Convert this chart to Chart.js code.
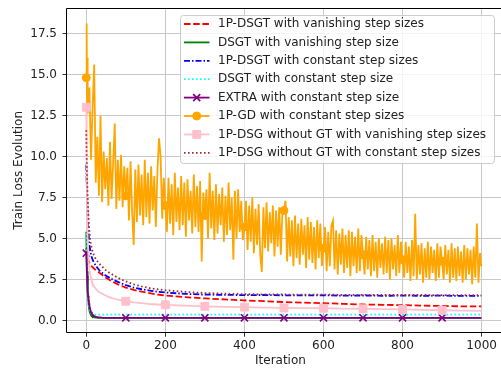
<!DOCTYPE html>
<html><head><meta charset="utf-8">
<script src="https://cdn.jsdelivr.net/npm/chart.js@4.4.0/dist/chart.umd.min.js"></script>
<style>html,body{margin:0;padding:0;background:#fff;overflow:hidden}#wrap{width:501px;height:370px;position:relative}canvas{display:block}</style>
</head><body><div id="wrap"><canvas id="c" width="501" height="370"></canvas></div>
<script>
const X_TICKS = [0, 200, 400, 600, 800, 1000];
const Y_TICKS = [0, 2.5, 5, 7.5, 10, 12.5, 15, 17.5];
const MARK_ITERS = [0, 100, 200, 300, 400, 500, 600, 700, 800, 900];

const SERIES_LABELS = [
  '1P-DSGT with vanishing step sizes',
  'DSGT with vanishing step size',
  '1P-DSGT with constant step sizes',
  'DSGT with constant step size',
  'EXTRA with constant step size',
  '1P-GD with constant step sizes',
  '1P-DSG without GT with vanishing step sizes',
  '1P-DSG without GT with constant step sizes'
];

// iteration grid for the smooth curves
const ITERS = [0,1,2,3,4,5,6,7,8,10,12,14,16,18,20,25,30,35,40,50,60,70,80,90,100,120,140,160,180,200,250,300,350,400,450,500,550,600,650,700,750,800,850,900,950,999];

const dsgt1pVanishing = [4.4,4.1,3.95,3.85,3.75,3.68,3.6,3.55,3.5,3.42,3.36,3.3,3.25,3.2,3.15,3.05,2.96,2.87,2.78,2.6,2.45,2.32,2.2,2.1,2.0,1.86,1.75,1.66,1.58,1.52,1.42,1.34,1.28,1.22,1.17,1.12,1.08,1.05,1.01,0.97,0.95,0.93,0.9,0.88,0.86,0.85];
const dsgtVanishing = [5.4,4.0,3.0,2.2,1.65,1.25,0.95,0.75,0.6,0.42,0.32,0.26,0.22,0.2,0.18,0.17,0.16,0.16,0.16,0.16,0.16,0.16,0.16,0.16,0.16,0.16,0.16,0.16,0.16,0.16,0.16,0.16,0.16,0.16,0.16,0.16,0.16,0.16,0.16,0.16,0.16,0.16,0.16,0.16,0.16,0.16];
const dsgt1pConstant = [9.5,8.5,7.6,6.8,6.2,5.6,5.2,4.9,4.6,4.3,4.0,3.85,3.7,3.6,3.5,3.3,3.15,3.0,2.9,2.72,2.58,2.46,2.35,2.25,2.15,2.0,1.9,1.82,1.75,1.7,1.62,1.57,1.56,1.54,1.55,1.53,1.52,1.53,1.51,1.52,1.5,1.51,1.5,1.51,1.49,1.5];
const dsgtConstant = [5.3,3.9,2.9,2.15,1.6,1.25,0.98,0.8,0.67,0.52,0.44,0.4,0.38,0.37,0.36,0.35,0.35,0.35,0.35,0.35,0.35,0.35,0.35,0.35,0.35,0.35,0.35,0.35,0.35,0.35,0.35,0.35,0.35,0.35,0.35,0.35,0.35,0.35,0.35,0.35,0.35,0.35,0.35,0.35,0.35,0.35];
const extraConstant = [4.1,3.3,2.7,2.2,1.8,1.5,1.25,1.05,0.9,0.68,0.52,0.42,0.35,0.3,0.26,0.21,0.19,0.18,0.17,0.16,0.16,0.16,0.16,0.16,0.16,0.16,0.16,0.16,0.16,0.16,0.16,0.16,0.16,0.16,0.16,0.16,0.16,0.16,0.16,0.16,0.16,0.16,0.16,0.16,0.16,0.16];
const dsgNoGtVanishing = [13.0,9.5,7.0,5.6,4.8,4.2,3.6,3.3,3.1,2.8,2.6,2.4,2.25,2.15,2.05,1.9,1.78,1.7,1.62,1.5,1.4,1.32,1.26,1.21,1.17,1.1,1.05,1.0,0.97,0.95,0.9,0.86,0.83,0.81,0.78,0.76,0.75,0.74,0.72,0.71,0.69,0.67,0.64,0.62,0.6,0.58];
const dsgNoGtConstant = [11.6,10.0,8.8,7.9,7.2,6.6,6.1,5.7,5.4,4.9,4.6,4.4,4.2,4.05,3.95,3.7,3.55,3.4,3.28,3.05,2.88,2.74,2.6,2.48,2.38,2.2,2.07,1.97,1.9,1.84,1.74,1.67,1.63,1.6,1.59,1.58,1.57,1.57,1.56,1.56,1.55,1.55,1.55,1.54,1.54,1.54];

// 1P-GD (noisy): iterations 0..3, then every 4th iteration up to 996, then 999
const gdIters = [0,1,2,3];
for (let it = 4; it <= 996; it += 4) gdIters.push(it);
gdIters.push(999);
const gd1pConstant = [
  14.8,18.1,13.5,16.0,
  12.6,14.2,9.8,13.0,15.6,8.4,11.2,7.6,12.5,7.2,10.3,8.0,9.9,7.0,10.9,7.4,9.6,12.0,6.8,9.8,7.3,10.1,6.9,9.4,
  7.6,9.3,6.1,9.7,6.6,4.6,9.2,6.0,9.5,6.4,8.9,5.8,9.8,6.3,9.0,5.9,9.4,6.7,8.8,5.7,9.1,11.1,10.0,6.2,8.7,
  7.0,5.4,8.7,5.9,8.3,5.2,9.0,6.0,8.1,5.5,8.8,5.8,8.4,5.1,8.6,6.1,7.9,5.3,8.9,5.7,8.2,5.4,8.5,3.6,7.8,
  6.4,8.0,5.0,9.0,5.6,7.9,4.9,8.3,5.3,7.7,5.8,8.1,4.8,7.6,5.2,8.4,5.5,7.5,3.7,7.9,5.0,8.0,5.4,7.3,4.9,
  5.7,7.3,4.3,7.0,4.8,7.5,4.1,6.8,4.6,7.1,4.0,2.95,6.9,4.4,7.2,4.2,6.6,4.7,7.0,3.9,6.7,4.5,6.9,4.0,6.5,
  6.7,7.3,3.6,6.3,3.9,6.1,3.3,6.4,3.8,5.9,3.4,6.2,4.0,5.8,3.2,6.3,3.7,6.0,3.5,5.7,3.1,6.1,3.8,5.9,3.3,
  4.4,5.7,3.0,5.4,3.3,5.8,6.1,3.1,5.5,2.8,5.3,3.4,5.6,2.9,5.2,3.2,5.5,2.7,5.4,3.3,5.1,2.9,5.6,3.0,5.2,
  4.0,2.8,5.1,3.1,4.9,2.7,5.2,3.0,4.8,2.6,5.0,3.2,4.7,2.8,5.1,2.9,4.9,2.5,5.0,3.1,4.6,2.7,5.2,2.9,4.8,
  3.7,2.6,4.8,2.9,4.5,2.4,4.9,2.7,6.5,2.5,4.6,2.8,4.7,2.3,4.4,2.6,4.8,2.5,4.5,2.9,4.3,2.4,4.7,2.6,4.5,
  3.6,2.5,4.6,2.8,4.3,2.3,4.7,2.6,4.4,2.4,4.5,2.7,4.2,2.3,4.6,2.5,4.4,2.8,4.3,2.2,4.5,2.6,5.9,2.3,4.1,
  3.3
];

function pts(xs, ys){ return xs.map((x,i)=>({x:x, y:ys[i]})); }

const STYLES = [
  {color:'#ff0000', dash:[6.5,2.7]},
  {color:'#008000', dash:[]},
  {color:'#0000ff', dash:[6,2,1.5,2]},
  {color:'#00ffff', dash:[1.6,2.4]},
  {color:'#800080', dash:[], mk:'crossRot', r:5, bw:1.6},
  {color:'#ffa500', dash:[], mk:'circle', r:4, bw:1},
  {color:'#ffc0cb', dash:[], mk:'rect', r:5.6, bw:1},
  {color:'#a52a2a', dash:[1.6,2.4]}
];
const SERIES_DATA = [
  pts(ITERS, dsgt1pVanishing),
  pts(ITERS, dsgtVanishing),
  pts(ITERS, dsgt1pConstant),
  pts(ITERS, dsgtConstant),
  pts(ITERS, extraConstant),
  pts(gdIters, gd1pConstant),
  pts(ITERS, dsgNoGtVanishing),
  pts(ITERS, dsgNoGtConstant)
];

const datasets = SERIES_LABELS.map((lab,i)=>{
  const s = STYLES[i];
  return {
    label: lab,
    data: SERIES_DATA[i],
    borderColor: s.color,
    backgroundColor: s.color,
    borderWidth: 1.8,
    borderDash: s.dash,
    tension: 0,
    order: SERIES_LABELS.length - i,
    pointStyle: s.mk || 'circle',
    pointBorderWidth: s.bw || 1,
    pointRadius: s.mk ? (ctx => (ctx.raw && MARK_ITERS.includes(ctx.raw.x)) ? s.r : 0) : 0,
    pointHoverRadius: 0
  };
});

const FONT = {family:'"DejaVu Sans"', size:12};
const TXT = '#222';
const GRID = '#c8c8c8';
const X_MIN = -50, X_MAX_FULL = 1049; // axis range that spans the full figure width
const AREA_LEFT = 66.5;

function crisp(p){ return Math.round(p - 0.5) + 0.5; }

// spines, grid continuation to the figure edge, and x tick labels
const framePlugin = {
  id:'frame',
  afterDatasetsDraw(chart){
    const {ctx, chartArea:a} = chart;
    const W = chart.width;
    const xs = chart.scales.x, ys = chart.scales.y;
    ctx.save();
    ctx.lineWidth = 1;
    ctx.strokeStyle = GRID;
    Y_TICKS.forEach(v => {
      const y = crisp(ys.getPixelForValue(v));
      ctx.beginPath(); ctx.moveTo(a.right - 0.5, y); ctx.lineTo(W, y); ctx.stroke();
    });
    ctx.strokeStyle = '#000';
    const top = a.top + 0.5, bot = crisp(a.bottom);
    ctx.beginPath();
    ctx.moveTo(W, top); ctx.lineTo(a.left, top); ctx.lineTo(a.left, bot); ctx.lineTo(W, bot);
    ctx.stroke();
    ctx.fillStyle = TXT; ctx.font = '12px "DejaVu Sans"';
    ctx.textAlign = 'center'; ctx.textBaseline = 'top';
    X_TICKS.forEach(v => ctx.fillText(String(v), xs.getPixelForValue(v), a.bottom + 7));
    ctx.restore();
  }
};

const legendPlugin = {
  id:'mplLegend',
  afterDraw(chart){
    const ctx = chart.ctx;
    ctx.save();
    ctx.beginPath();
    ctx.roundRect(180.5, 15.5, 314, 148, 3);
    ctx.fillStyle = 'rgba(255,255,255,0.8)'; ctx.fill();
    ctx.strokeStyle = '#cccccc'; ctx.lineWidth = 1; ctx.stroke();
    chart.data.datasets.forEach((ds,i)=>{
      const s = STYLES[i];
      const y = 24 + i*18.4;
      ctx.save();
      ctx.strokeStyle = s.color; ctx.lineWidth = 1.8; ctx.setLineDash(s.dash);
      ctx.beginPath(); ctx.moveTo(184, y); ctx.lineTo(209.5, y); ctx.stroke();
      ctx.setLineDash([]);
      if (s.mk) {
        ctx.fillStyle = s.color; ctx.strokeStyle = s.color; ctx.lineWidth = s.bw;
        Chart.helpers.drawPoint(ctx, {pointStyle:s.mk, radius:s.r, rotation:0, borderWidth:s.bw}, 196.7, y);
      }
      ctx.restore();
      ctx.fillStyle = TXT; ctx.font = '12px "DejaVu Sans"'; ctx.textBaseline = 'middle'; ctx.textAlign = 'left';
      ctx.fillText(ds.label, 218, y);
    });
    ctx.restore();
  }
};

const chart = new Chart(document.getElementById('c'), {
  type:'line',
  data:{datasets},
  options:{
    responsive:false, devicePixelRatio:1, animation:false,
    layout:{padding:{top:8, right:0, left:0, bottom:0}},
    plugins:{legend:{display:false}, tooltip:{enabled:false}},
    scales:{
      x:{
        type:'linear', min:X_MIN, max:X_MAX_FULL,
        afterBuildTicks: sc => { sc.ticks = X_TICKS.map(v=>({value:v})); },
        afterFit: sc => { sc.height = 37.3; sc.paddingLeft = 0; sc.paddingRight = 0; },
        ticks:{display:false},
        grid:{color:GRID, lineWidth:1, drawTicks:true, tickLength:4, tickColor:'#333', tickWidth:1},
        border:{display:false},
        title:{display:true, text:'Iteration', font:FONT, color:TXT, padding:{top:0, bottom:2.4}}
      },
      y:{
        type:'linear', min:-0.75, max:19.05,
        afterBuildTicks: sc => { sc.ticks = Y_TICKS.map(v=>({value:v})); },
        afterFit: sc => { sc.width = AREA_LEFT; sc.paddingTop = 0; sc.paddingBottom = 0; },
        ticks:{font:FONT, color:TXT, padding:5.5, autoSkip:false, callback:v=>Number(v).toFixed(1)},
        grid:{color:GRID, lineWidth:1, drawTicks:true, tickLength:4, tickColor:'#333', tickWidth:1},
        border:{display:false},
        title:{display:true, text:'Train Loss Evolution', font:FONT, color:TXT, padding:{top:11.4, bottom:0}}
      }
    }
  },
  plugins:[framePlugin, legendPlugin]
});

// Chart.js keeps a few px free on the right; keep the reference's x scale
// (range -50..1049 across the whole figure width) by trimming the axis max.
const R = chart.chartArea.right, L = chart.chartArea.left;
if (chart.width - R > 0.5) {
  chart.options.scales.x.max = X_MIN + (R - L) * (X_MAX_FULL - X_MIN) / (chart.width - L);
  chart.update();
}
</script>
</body></html>
